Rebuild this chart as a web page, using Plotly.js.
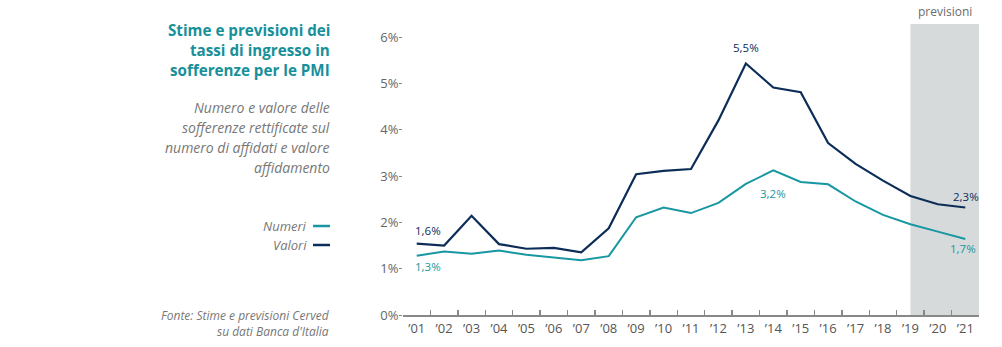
<!DOCTYPE html>
<html>
<head>
<meta charset="utf-8">
<script src="https://cdn.plot.ly/plotly-3.0.1.min.js"></script>
<style>
  html, body { margin: 0; padding: 0; background: #fff; }
  #chart { width: 1002px; height: 347px; }
</style>
</head>
<body>
<div id="chart"></div>
<script>
// ---- data ----
const years = ["’01","’02","’03","’04","’05","’06","’07","’08","’09","’10","’11","’12","’13","’14","’15","’16","’17","’18","’19","’20","’21"];
const numeri = [1.28,1.37,1.32,1.39,1.30,1.24,1.18,1.27,2.11,2.32,2.20,2.42,2.83,3.12,2.87,2.82,2.45,2.16,1.96,1.80,1.64];
const valori = [1.54,1.50,2.14,1.53,1.43,1.45,1.35,1.87,3.04,3.11,3.15,4.20,5.43,4.91,4.81,3.71,3.26,2.90,2.57,2.39,2.32];
const yTickVals = [0,1,2,3,4,5,6];
const yTickText = ["0%","1%","2%","3%","4%","5%","6%"];
const forecastStart = "’19";
// point labels: [series, category, text]
const pointLabels = [
  ["valori","’01","1,6%"],
  ["numeri","’01","1,3%"],
  ["valori","’13","5,5%"],
  ["numeri","’14","3,2%"],
  ["valori","’21","2,3%"],
  ["numeri","’21","1,7%"]
];

const TEAL = "#1797a1";
const NAVY = "#0c2d58";
const TITLE = "#17909a";
const GREY = "#6b6b6b";

// plot area in pixels
const L = 403, R = 979, T = 24, B = 315;
const px = x => (x - L) / (R - L);
const py = y => (B - y) / (B - T);

const annotations = [];
function txt(text, x, y, size, color, opts) {
  annotations.push(Object.assign({
    text: text, xref: "paper", yref: "paper", x: px(x), y: py(y),
    xanchor: "right", yanchor: "middle", showarrow: false, align: "right",
    font: {family: "Open Sans", size: size, color: color}
  }, opts || {}));
}
// title
["Stime e previsioni dei","tassi di ingresso in","sofferenze per le PMI"].forEach((t,i) =>
  txt("<b>"+t+"</b>", 332, 30 + i*20, 15.2, TITLE));
// subtitle
["<i>Numero e valore delle</i>","<i>sofferenze rettificate sul</i>","<i>numero di affidati e valore</i>","<i>affidamento</i>"].forEach((t,i) =>
  txt(t, 332, 108 + i*19.7, 14, "#777777"));
// legend
txt("<i>Numeri</i>", 309, 226, 13, "#777777");
txt("<i>Valori</i>", 309, 245, 13, "#777777");
// source
txt("<i>Fonte: Stime e previsioni Cerved</i><br><i>su dati Banca d'Italia</i>", 332, 323, 12, "#777777");

// previsioni label
annotations.push({
  text: "previsioni", xref: "x", yref: "paper",
  x: (years.indexOf(forecastStart) + years.length - 0.5) / 2, y: 1, yanchor: "bottom", yshift: 2,
  showarrow: false, font: {family: "Open Sans", size: 12, color: GREY}
});

const shifts = {
  "valori’01": [11, 13], "numeri’01": [11, -11],
  "valori’13": [0, 16], "numeri’14": [0, -23],
  "valori’21": [1, 11], "numeri’21": [-2, -9]
};
pointLabels.forEach(([s, c, t]) => {
  const arr = s === "valori" ? valori : numeri;
  const sh = shifts[s + c] || [0, 0];
  annotations.push({
    text: t, xref: "x", yref: "y", x: c, y: arr[years.indexOf(c)],
    xshift: sh[0], yshift: sh[1], showarrow: false,
    font: {family: "Open Sans", size: 11.5, color: s === "valori" ? NAVY : TEAL}
  });
});

const shapes = [
  { type: "rect", xref: "x", yref: "paper", layer: "below",
    x0: years.indexOf(forecastStart), x1: years.length - 0.5, y0: 0, y1: 1,
    fillcolor: "#d6dadb", line: {width: 0} },
  { type: "line", xref: "paper", yref: "paper", x0: px(313), x1: px(330), y0: py(226), y1: py(226),
    line: {color: TEAL, width: 2.5} },
  { type: "line", xref: "paper", yref: "paper", x0: px(313), x1: px(330), y0: py(245), y1: py(245),
    line: {color: NAVY, width: 2.5} }
];

const traces = [
  { x: years, y: numeri, type: "scatter", mode: "lines", name: "Numeri",
    line: {color: TEAL, width: 2}, hoverinfo: "skip" },
  { x: years, y: valori, type: "scatter", mode: "lines", name: "Valori",
    line: {color: NAVY, width: 2.2}, hoverinfo: "skip" }
];

const layout = {
  width: 1002, height: 347,
  margin: {l: L, r: 1002 - R, t: T, b: 347 - B, pad: 0},
  paper_bgcolor: "#fff", plot_bgcolor: "rgba(0,0,0,0)",
  showlegend: false,
  font: {family: "Open Sans", color: GREY},
  xaxis: {
    type: "category", categoryorder: "array", categoryarray: years,
    range: [-0.5, years.length - 0.5], fixedrange: true,
    tickson: "boundaries", ticks: "inside", ticklen: 5, tickwidth: 1.5, tickcolor: "#888",
    showline: true, linecolor: "#888", linewidth: 2, showgrid: false, zeroline: false,
    tickfont: {family: "Open Sans", size: 13, color: "#555"}
  },
  yaxis: {
    range: [0, (B - T) / 46.33], fixedrange: true,
    tickvals: yTickVals, ticktext: yTickText,
    ticks: "outside", ticklen: 3, tickwidth: 1, tickcolor: "#888",
    ticklabelstandoff: -2,
    showline: false, showgrid: false, zeroline: false,
    tickfont: {family: "Open Sans", size: 13, color: "#666"}
  },
  shapes: shapes,
  annotations: annotations
};

Plotly.newPlot("chart", traces, layout, {displayModeBar: false, staticPlot: true});
</script>
</body>
</html>
